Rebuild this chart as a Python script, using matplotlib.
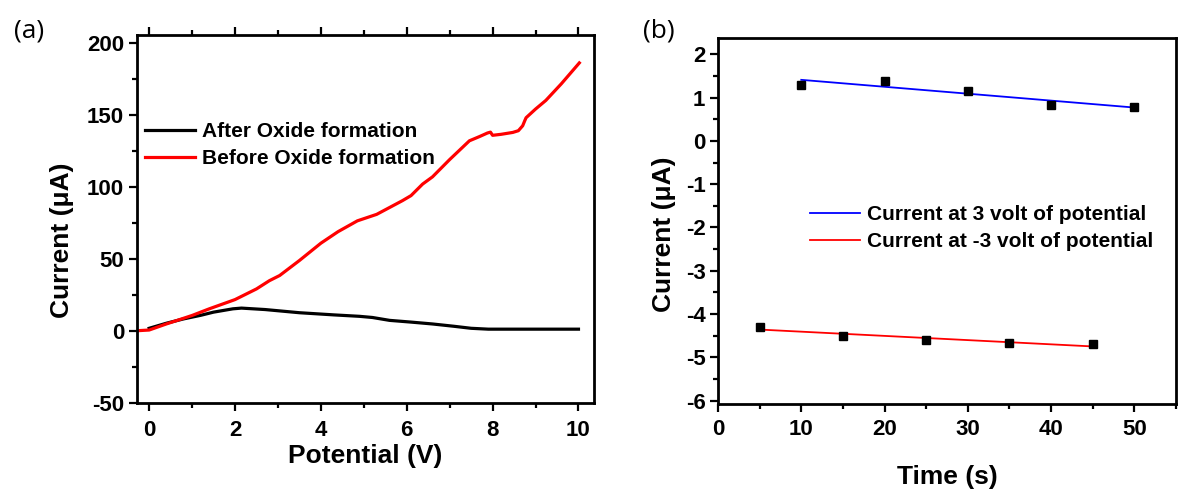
import numpy as np
import matplotlib
matplotlib.use("Agg")
import matplotlib.pyplot as plt
from matplotlib.ticker import MultipleLocator

plt.rcParams['font.family'] = ['Liberation Sans', 'DejaVu Sans']
plt.rcParams['font.weight'] = 'bold'
plt.rcParams['axes.unicode_minus'] = False

# panel (a): I-V sweeps
after_v = [0.0, 0.4, 0.8, 1.2, 1.5, 1.95, 2.15, 2.7, 3.5, 4.3, 4.9, 5.2, 5.6,
           6.1, 6.6, 7.1, 7.5, 7.9, 8.5, 9.0, 9.5, 10.0]
after_i = [2.0, 5.5, 8.5, 11.0, 13.2, 15.5, 16.0, 15.0, 12.8, 11.3, 10.3, 9.5, 7.5,
           6.3, 5.0, 3.4, 2.0, 1.4, 1.4, 1.4, 1.4, 1.4]

before_v = [-0.29, 0.0, 0.4, 1.0, 1.4, 2.0, 2.5, 2.8, 3.04, 3.5, 4.0, 4.4, 4.85,
            5.3, 5.9, 6.1, 6.37, 6.6, 7.0, 7.46, 7.7, 7.88, 7.95, 8.0, 8.2, 8.47,
            8.6, 8.7, 8.75, 8.78, 9.0, 9.24, 9.6, 10.02]
before_i = [0.3, 0.8, 5.0, 10.9, 15.5, 21.9, 29.3, 35.0, 38.6, 49.0, 61.0, 69.0, 76.5,
            81.0, 90.5, 94.0, 102.0, 107.0, 119.0, 132.0, 135.0, 137.4, 138.0, 135.8,
            136.5, 137.8, 139.0, 142.4, 146.0, 148.0, 154.0, 160.0, 171.5, 186.0]

# panel (b): current vs time
t_pos = [10, 20, 30, 40, 50]
i_pos = [1.30, 1.38, 1.15, 0.84, 0.78]
t_neg = [5, 15, 25, 35, 45]
i_neg = [-4.30, -4.51, -4.61, -4.67, -4.70]

# fitted lines as drawn
fit_pos_t = [10, 50]
fit_pos_i = [1.41, 0.77]
fit_neg_t = [5, 45]
fit_neg_i = [-4.36, -4.75]

W, H = 1178, 490
fig = plt.figure(figsize=(W / 100, H / 100), dpi=100)

def px_axes(left, top, right, bottom):
    return fig.add_axes([left / W, 1 - bottom / H, (right - left) / W, (bottom - top) / H])

ax1 = px_axes(136.7, 35.5, 593.5, 403.3)
ax2 = px_axes(718, 38.3, 1176, 404)

tick_fs = 16
label_fs = 19
leg_fs = 15

for ax in (ax1, ax2):
    for s in ax.spines.values():
        s.set_linewidth(2.0)
    ax.tick_params(which='major', direction='out', length=6, width=1.6,
                   labelsize=tick_fs)
    ax.tick_params(which='minor', direction='out', length=3.5, width=1.6)

# ---- panel (a)
ax1.plot(after_v, after_i, color='black', lw=2.3, label='After Oxide formation')
ax1.plot(before_v, before_i, color='#ff0000', lw=2.3, label='Before Oxide formation')
ax1.set_xlim(-0.29, 10.35)
ax1.set_ylim(-50, 205)
ax1.xaxis.set_major_locator(MultipleLocator(2))
ax1.xaxis.set_minor_locator(MultipleLocator(1))
ax1.yaxis.set_major_locator(MultipleLocator(50))
ax1.yaxis.set_minor_locator(MultipleLocator(25))
ax1.tick_params(axis='x', which='both', top=True, labeltop=False)
ax1.tick_params(axis='x', which='major', pad=6)
ax1.tick_params(axis='y', which='major', pad=3)
ax1.set_xlabel('Potential (V)', fontsize=label_fs, fontweight='bold')
ax1.set_ylabel('Current (μA)', fontsize=label_fs, fontweight='bold')
ax1.xaxis.set_label_coords(0.5, -0.1425)
ax1.xaxis.label.set_va('center')
ax1.yaxis.set_label_coords(-0.1635, 0.444)
ax1.yaxis.label.set_va('center')
ax1.legend(loc='upper left', bbox_to_anchor=(0.018, 0.764), frameon=False,
           handlelength=2.4, handletextpad=0.35,
           labelspacing=0.38, borderpad=0, borderaxespad=0,
           prop={'weight': 'bold', 'size': leg_fs})

# ---- panel (b)
ax2.plot(fit_pos_t, fit_pos_i, color='#0000ff', lw=1.3,
         label='Current at 3 volt of potential')
ax2.plot(fit_neg_t, fit_neg_i, color='#ff0000', lw=1.3,
         label='Current at -3 volt of potential')
ax2.plot(t_pos, i_pos, 's', color='black', ms=5.5, zorder=5)
ax2.plot(t_neg, i_neg, 's', color='black', ms=5.5, zorder=5)
ax2.set_xlim(0, 55)
ax2.set_ylim(-6.08, 2.37)
ax2.xaxis.set_major_locator(MultipleLocator(10))
ax2.xaxis.set_minor_locator(MultipleLocator(5))
ax2.yaxis.set_major_locator(MultipleLocator(1))
ax2.yaxis.set_minor_locator(MultipleLocator(0.5))
ax2.tick_params(axis='x', which='major', pad=5)
ax2.tick_params(axis='y', which='major', pad=3)
ax2.set_xlabel('Time (s)', fontsize=label_fs, fontweight='bold')
ax2.set_ylabel('Current (μA)', fontsize=label_fs, fontweight='bold')
ax2.xaxis.set_label_coords(0.5, -0.1985)
ax2.xaxis.label.set_va('center')
ax2.yaxis.set_label_coords(-0.117, 0.465)
ax2.yaxis.label.set_va('center')
ax2.legend(loc='upper left', bbox_to_anchor=(0.201, 0.544), frameon=False,
           handlelength=2.4, handletextpad=0.35,
           labelspacing=0.38, borderpad=0, borderaxespad=0,
           prop={'weight': 'bold', 'size': leg_fs})

fig.text(29 / W, 1 - 31 / H, '(a)', fontsize=19, fontweight='normal',
         family=['Open Sans', 'DejaVu Sans'], ha='center', va='center')
fig.text(659 / W, 1 - 31 / H, '(b)', fontsize=19, fontweight='normal',
         family=['Open Sans', 'DejaVu Sans'], ha='center', va='center')

fig.savefig('out.png', dpi=100)
